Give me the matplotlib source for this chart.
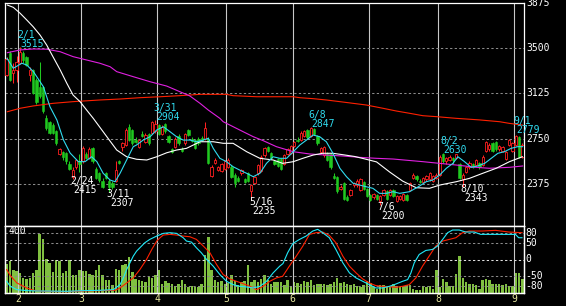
import numpy as np
import matplotlib
matplotlib.use("Agg")
import matplotlib.pyplot as plt
import matplotlib.transforms as mtransforms

# ---- daily candles, 157 sessions: late Jan .. early Sep ----
opens = [3280, 3460, 3295, 3320, 3380, 3460, 3430, 3280, 3320, 3240,
         3180, 3180, 2920, 2890, 2860, 2810, 2620, 2640, 2630, 2540,
         2430, 2515, 2560, 2560, 2620, 2590, 2670, 2495, 2460, 2400,
         2460, 2400, 2380, 2400, 2560, 2680, 2700, 2850, 2820, 2740,
         2680, 2790, 2720, 2790, 2795, 2810, 2860, 2790, 2870, 2770,
         2660, 2680, 2770, 2660, 2710, 2820, 2750, 2740, 2750, 2755,
         2750, 2750, 2440, 2550, 2490, 2480, 2500, 2515, 2515, 2450,
         2420, 2460, 2410, 2460, 2310, 2380, 2460, 2480, 2610, 2680,
         2630, 2560, 2580, 2580, 2540, 2620, 2630, 2690, 2740, 2740,
         2770, 2820, 2770, 2830, 2770, 2640, 2610, 2630, 2620, 2440,
         2430, 2330, 2380, 2260, 2280, 2360, 2360, 2320, 2390, 2330,
         2280, 2260, 2280, 2230, 2280, 2310, 2280, 2320, 2230, 2250,
         2240, 2280, 2320, 2420, 2440, 2400, 2390, 2410, 2410, 2400,
         2420, 2450, 2625, 2560, 2570, 2585, 2590, 2540, 2410, 2470,
         2510, 2535, 2530, 2545, 2530, 2650, 2660, 2710, 2720, 2660,
         2650, 2580, 2700, 2650, 2700, 2760, 2600]
highs = [3430, 3475, 3380, 3440, 3515, 3480, 3440, 3345, 3330, 3250,
         3390, 3190, 2950, 2900, 2880, 2820, 2670, 2650, 2640, 2560,
         2510, 2580, 2620, 2690, 2640, 2680, 2680, 2510, 2475, 2420,
         2470, 2410, 2400, 2560, 2570, 2720, 2840, 2870, 2830, 2760,
         2750, 2810, 2800, 2800, 2900, 2904, 2870, 2860, 2880, 2780,
         2670, 2760, 2790, 2680, 2800, 2830, 2760, 2750, 2760, 2770,
         2890, 2760, 2530, 2590, 2520, 2550, 2570, 2590, 2530, 2460,
         2440, 2500, 2420, 2470, 2370, 2440, 2540, 2610, 2680, 2690,
         2640, 2570, 2590, 2590, 2620, 2670, 2700, 2730, 2760, 2810,
         2820, 2830, 2847, 2840, 2780, 2680, 2690, 2640, 2630, 2460,
         2440, 2360, 2390, 2280, 2330, 2390, 2410, 2420, 2400, 2340,
         2290, 2300, 2290, 2280, 2330, 2320, 2330, 2330, 2280, 2280,
         2300, 2290, 2390, 2460, 2450, 2410, 2430, 2450, 2470, 2450,
         2460, 2610, 2630, 2600, 2610, 2600, 2625, 2550, 2460, 2520,
         2560, 2545, 2580, 2555, 2610, 2730, 2710, 2720, 2730, 2700,
         2690, 2650, 2750, 2720, 2779, 2770, 2710]
lows = [3270, 3225, 3215, 3220, 3370, 3380, 3350, 3230, 3120, 3040,
        3090, 2960, 2820, 2790, 2790, 2700, 2610, 2570, 2540, 2490,
        2415, 2500, 2470, 2550, 2580, 2580, 2550, 2410, 2390, 2340,
        2410, 2307, 2330, 2390, 2540, 2650, 2690, 2730, 2700, 2710,
        2670, 2760, 2710, 2700, 2790, 2800, 2780, 2780, 2800, 2710,
        2630, 2670, 2700, 2640, 2700, 2770, 2720, 2660, 2700, 2730,
        2740, 2540, 2430, 2540, 2480, 2470, 2490, 2505, 2420, 2350,
        2390, 2450, 2380, 2390, 2235, 2370, 2450, 2470, 2600, 2640,
        2580, 2530, 2510, 2490, 2530, 2610, 2620, 2680, 2720, 2730,
        2760, 2750, 2760, 2780, 2700, 2630, 2600, 2560, 2500, 2410,
        2300, 2320, 2240, 2230, 2270, 2350, 2350, 2310, 2320, 2260,
        2230, 2250, 2240, 2200, 2270, 2240, 2270, 2260, 2220, 2240,
        2230, 2230, 2310, 2410, 2400, 2380, 2380, 2400, 2400, 2390,
        2410, 2440, 2550, 2540, 2560, 2540, 2580, 2410, 2343, 2460,
        2500, 2505, 2520, 2500, 2520, 2640, 2650, 2640, 2650, 2650,
        2640, 2570, 2690, 2640, 2690, 2590, 2590]
closes = [3410, 3240, 3320, 3390, 3470, 3400, 3365, 3320, 3130, 3050,
          3100, 2975, 2840, 2800, 2800, 2710, 2660, 2600, 2560, 2500,
          2490, 2570, 2540, 2670, 2590, 2660, 2560, 2420, 2405, 2350,
          2420, 2345, 2350, 2490, 2550, 2710, 2820, 2740, 2710, 2720,
          2740, 2770, 2780, 2710, 2890, 2870, 2790, 2850, 2810, 2720,
          2640, 2750, 2710, 2650, 2790, 2780, 2730, 2670, 2710, 2740,
          2840, 2550, 2510, 2570, 2510, 2540, 2560, 2570, 2430, 2380,
          2400, 2490, 2390, 2400, 2360, 2430, 2530, 2600, 2670, 2650,
          2590, 2540, 2520, 2500, 2610, 2660, 2690, 2720, 2730, 2800,
          2810, 2760, 2840, 2790, 2710, 2670, 2680, 2570, 2510, 2420,
          2310, 2350, 2250, 2240, 2320, 2380, 2400, 2410, 2330, 2270,
          2240, 2290, 2250, 2270, 2320, 2250, 2320, 2270, 2270, 2270,
          2290, 2240, 2380, 2450, 2410, 2390, 2420, 2440, 2460, 2440,
          2450, 2600, 2560, 2590, 2600, 2575, 2620, 2420, 2450, 2510,
          2550, 2515, 2570, 2510, 2600, 2720, 2700, 2650, 2660, 2690,
          2680, 2640, 2740, 2710, 2770, 2600, 2700]
volumes = [196, 214, 152, 148, 134, 103, 96, 103, 136, 152,
           396, 363, 230, 201, 141, 219, 212, 134, 145, 223,
           119, 119, 152, 148, 148, 130, 119, 156, 190, 123,
           90, 85, 52, 163, 152, 190, 196, 241, 141, 96,
           90, 81, 74, 108, 103, 119, 152, 63, 81, 68,
           63, 48, 63, 85, 57, 41, 45, 41, 37, 59,
           252, 378, 152, 90, 74, 81, 63, 68, 119, 79,
           52, 74, 79, 185, 74, 90, 74, 96, 119, 85,
           63, 74, 74, 74, 52, 90, 45, 74, 68, 63,
           79, 74, 90, 52, 63, 63, 59, 52, 59, 74,
           101, 68, 74, 63, 52, 59, 45, 41, 52, 79,
           68, 41, 30, 52, 52, 48, 41, 63, 45, 41,
           45, 52, 52, 30, 23, 23, 45, 41, 45, 30,
           152, 41, 96, 74, 45, 45, 130, 245, 103, 74,
           63, 57, 52, 30, 90, 96, 85, 63, 63, 59,
           52, 63, 45, 45, 134, 134, 96]

month_labels = ["2", "3", "4", "5", "6", "7", "8", "9"]
month_starts = [4, 23, 46, 67, 87, 110, 131, 154]

# moving averages, sampled off the chart as (session, price)
ma5_day = [0.1, 2, 4.6, 6.1, 8.1, 11.1, 13.1, 15.2, 17.2, 19.2, 21.7, 23.7, 25.7,
           27.3, 29.2, 31.3, 32.8, 34.3, 36.3, 38.3, 39.3, 41.3, 43.4, 45.4,
           47.4, 49.4, 51.4, 53.4, 55.4, 57.5, 59.5, 61, 62.5, 64.5, 66.5,
           68.5, 70.5, 72.6, 74.6, 76.6, 78.6, 80.6, 82.6, 84.7, 86.7, 88.7,
           90.7, 92.7, 94.7, 96.7, 98.7, 100.8, 102.8, 104.8, 106.8, 108.8,
           110.8, 112.8, 114.9, 116.9, 118.9, 121.9, 124.9, 126.9, 128.9, 131,
           133, 135, 136.5, 138.5, 140.5, 142.5, 144.6, 146.6, 148.6, 150.6,
           152.6, 154.6, 156.1]
ma5_val = [3418, 3335, 3377, 3362, 3307, 3182, 3015, 2904, 2737, 2629, 2557, 2557,
           2598, 2557, 2460, 2404, 2390, 2460, 2571, 2682, 2696, 2737, 2765, 2821,
           2848, 2807, 2765, 2737, 2737, 2723, 2737, 2752, 2668, 2585, 2557,
           2515, 2487, 2460, 2432, 2460, 2543, 2598, 2585, 2585, 2640, 2696,
           2737, 2779, 2765, 2723, 2627, 2502, 2432, 2377, 2362, 2348,
           2335, 2293, 2293, 2307, 2293, 2307, 2354, 2390, 2404, 2446,
           2502, 2543, 2598, 2557, 2510, 2521, 2543, 2585, 2627, 2640,
           2668, 2682, 2682]

ma25_day = [0.2, 2, 4.1, 6.1, 8, 10.1, 12.1, 14, 16.2, 18.2, 20.1, 22.2, 24.2, 26.2,
            27.3, 30.3, 33.3, 36.3, 39.3, 42.4, 45.4, 48.4, 51.4, 54.4, 58.5,
            62.5, 65.5, 68.5, 72.6, 76.6, 80.6, 83.5, 86.7, 89.6, 92.7, 95.6,
            98.6, 101.7, 105.3, 108.3, 111.9, 115.9, 119.8, 123.9, 127.9, 131,
            136, 140, 144, 148.1, 152.1, 156]
ma25_val = [3862, 3843, 3793, 3737, 3682, 3612, 3529, 3432, 3321, 3210, 3112, 3057,
            2987, 2918, 2877, 2765, 2654, 2598, 2577, 2571, 2598, 2631, 2654, 2668,
            2723, 2723, 2710, 2710, 2640, 2585, 2571, 2543, 2557, 2585, 2612, 2627,
            2627, 2615, 2600, 2580, 2555, 2470, 2395, 2340, 2335, 2362,
            2390, 2418, 2460, 2502, 2557, 2598]

ma75_day = [0.2, 4.1, 8, 12.1, 16.2, 20.1, 24.2, 28.2, 31.3, 33.3, 38.3, 43.4, 48.4,
            52.4, 55.4, 58.5, 61, 64.5, 65.5, 70.5, 74.6, 77.6, 81.6, 86.7, 91.7,
            96.7, 101.8, 106.8, 111.8, 116.9, 125.9, 136, 142, 146, 152.1, 156.1]
ma75_val = [3465, 3488, 3496, 3494, 3473, 3432, 3404, 3377, 3348, 3307, 3265, 3223,
            3187, 3140, 3105, 3043, 2987, 2918, 2890, 2821, 2765, 2732, 2682, 2640,
            2621, 2612, 2604, 2593, 2585, 2579, 2557, 2529, 2510, 2502, 2510, 2521]

ma200_day = [0.2, 4.1, 8, 14, 20.1, 28.2, 34.3, 40.3, 46.4, 52.4, 58.5, 66.5, 68.5,
             75.6, 86.7, 88.7, 92.7, 96.7, 100.8, 104.8, 108.8, 113.8, 117.9,
             121.9, 125.9, 130, 136, 143, 149.1, 152.1, 156]
ma200_val = [2973, 3002, 3021, 3043, 3057, 3071, 3079, 3090, 3098, 3107, 3118, 3118,
             3107, 3098, 3098, 3090, 3082, 3071, 3057, 3043, 3029, 3002, 2979,
             2960, 2940, 2932, 2918, 2905, 2890, 2876, 2862]

# oscillators in the lower pane (-100..100)
osc_fast_day = [0, 1.1, 3.1, 6.1, 10.1, 18.2, 23.2, 28.2, 32.3, 34.3, 35.3, 36.3,
                37.3, 38.3, 39.3, 40.3, 41.8, 43.3, 45.4, 47.4, 49.4, 51.4, 53.4,
                54.4, 55.9, 57.4, 58.9, 60.5, 62.5, 64.5, 66.5, 68.5, 70.5, 72.6,
                74.6, 76.6, 78.6, 80.6, 82.6, 83.6, 85, 86.6, 88.6, 90.6, 92.6,
                94.1, 95.6, 97.6, 99.6, 101.7, 103.7, 105.7, 107.7, 109.7, 111.7,
                113.7, 115.8, 117.8, 119.8, 121.3, 122.3, 123.3, 124.8, 126.8,
                128.8, 130.3, 131.9, 133.4, 134.9, 136.9, 138.9, 141.4, 143.4,
                145.9, 149.9, 153.9, 154.9, 155.9]
osc_fast_val = [-65, -80, -90, -93, -94, -95, -93, -92, -90, -75, -55, -30,
                -10, 10, 25, 35, 50, 60, 70, 78, 80, 78, 65,
                55, 52, 35, 20, 0, -20, -45, -65, -75, -80, -82,
                -85, -80, -65, -40, -20, -12, 20, 48, 60, 70, 85,
                90, 80, 65, 30, -10, -40, -55, -65, -75, -85,
                -85, -80, -73, -65, -60, -40, -10, 15, 27,
                30, 40, 60, 80, 88, 88, 82, 82, 75,
                75, 75, 75, 65, 65]
osc_slow_day = [0, 1.1, 3.1, 6.1, 8.1, 11.1, 18.2, 23.2, 28.2, 32.8, 34.3, 36.3,
                38.3, 40.3, 42.3, 43.9, 45.4, 46.4, 47.4, 49.4, 51.4, 53.4, 55.4,
                57.4, 59.5, 61.5, 63.5, 65.5, 67.5, 69.5, 71.5, 73.6, 75.6, 77.6,
                79.6, 81.6, 83.5, 85.5, 87.6, 89.6, 91.6, 93.6, 95.6, 97.6, 99.6,
                101.7, 103.7, 105.7, 107.7, 109.7, 111.7, 113.7, 117.8, 119.8,
                121.8, 123.8, 125.8, 127.8, 129.8, 131.9, 133.9, 135.9, 137.9,
                139.9, 143.9, 147.9, 151.9, 155.9]
osc_slow_val = [-30, -48, -70, -85, -92, -95, -96, -94, -93, -92, -85, -70,
                -55, -30, 0, 30, 55, 65, 73, 75, 73, 70, 68,
                60, 40, 20, -15, -45, -58, -65, -72, -80, -90, -80,
                -65, -55, -50, -20, 10, 40, 75, 80, 82, 72, 50,
                10, -20, -40, -58, -70, -78, -80, -83, -80,
                -75, -55, -20, 10, 40, 55, 60, 65, 80,
                85, 85, 87, 82, 80]

price_levels = [3875, 3500, 3125, 2750, 2375]
osc_levels = [80, 50, 0, -50, -80]

peak_days = [4, 45, 92, 132, 154]
peak_dates = ["2/1", "3/31", "6/8", "8/2", "9/1"]
peak_lift = [0, 0, 0, 0, 1.6]          # points, keeps 9/1 clear of the 2750 scale label
trough_days = [20, 31, 74, 113, 138]
trough_dates = ["2/24", "3/11", "5/16", "7/6", "8/10"]

# ---- colours ----
UP = "#ff2020"
DOWN = "#20c820"
CYAN = "#30dcf0"
MONO = "DejaVu Sans Mono"

opens = np.array(opens)
highs = np.array(highs)
lows = np.array(lows)
closes = np.array(closes)
days = np.arange(len(closes))

fig = plt.figure(figsize=(5.66, 3.06), dpi=100, facecolor="black")
ax = fig.add_axes([5 / 566, 80 / 306, 519 / 566, 223 / 306], facecolor="black")
ax2 = fig.add_axes([5 / 566, 13 / 306, 519 / 566, 67 / 306], facecolor="black")
ax3 = ax2.twinx()

for a in (ax, ax2, ax3):
    a.set_xlim(-0.5, len(closes) - 0.5)
    a.set_xticks([])
    a.set_yticks([])
    for s in a.spines.values():
        s.set_color("white")
        s.set_linewidth(0.9)

ax.set_ylim(2021, 3879)
ax2.set_ylim(0, 449)
ax3.set_ylim(-100, 100)

# grid
for m in month_starts:
    ax.axvline(m - 0.5, color="#c8c8c8", lw=0.8, zorder=1)
    ax2.axvline(m - 0.5, color="#c8c8c8", lw=0.8, zorder=3)
for lv in price_levels[1:]:
    ax.axhline(lv, color="#8a8a8a", lw=0.75, dashes=(2.2, 2.2), zorder=1)

# candles
up = closes >= opens
dn = ~up
ax.vlines(days[up], lows[up], highs[up], color=UP, lw=0.75, zorder=3)
ax.vlines(days[dn], lows[dn], highs[dn], color=DOWN, lw=0.75, zorder=3)
body = np.maximum(np.abs(closes - opens), 5)
bottom = np.minimum(opens, closes)
ax.bar(days[up], body[up], bottom=bottom[up], width=0.7, facecolor="black",
       edgecolor=UP, linewidth=0.6, zorder=4)
ax.bar(days[dn], body[dn], bottom=bottom[dn], width=0.7, facecolor=DOWN,
       edgecolor=DOWN, linewidth=0.4, zorder=4)

# moving averages
ax.plot(ma200_day, ma200_val, color="#ff2000", lw=0.8, zorder=5)
ax.plot(ma75_day, ma75_val, color="#e020e0", lw=0.8, zorder=5)
ax.plot(ma25_day, ma25_val, color="white", lw=0.8, zorder=5)
ax.plot(ma5_day, ma5_val, color=CYAN, lw=0.8, zorder=6)

# peak / trough labels
for d, t, lift in zip(peak_days, peak_dates, peak_lift):
    ax.annotate(str(highs[d]), (d, highs[d]), xytext=(0.4, lift), textcoords="offset points",
                color=CYAN, fontsize=7, family=MONO, ha="left", va="baseline",
                annotation_clip=False, zorder=7)
    ax.annotate(t, (d, highs[d]), xytext=(-1.8, 6.5 + lift), textcoords="offset points",
                color=CYAN, fontsize=7, family=MONO, ha="left", va="baseline",
                annotation_clip=False, zorder=7)
for d, t in zip(trough_days, trough_dates):
    ax.annotate(t, (d, lows[d]), xytext=(-1.7, -3.6), textcoords="offset points",
                color="white", fontsize=7, family=MONO, ha="left", va="baseline",
                annotation_clip=False, zorder=7)
    ax.annotate(str(lows[d]), (d, lows[d]), xytext=(0.7, -10.1), textcoords="offset points",
                color="white", fontsize=7, family=MONO, ha="left", va="baseline",
                annotation_clip=False, zorder=7)

# right-hand scales
tr = mtransforms.blended_transform_factory(ax.transAxes, ax.transData)
for lv in price_levels:
    ax.text(1.0048, lv, str(lv), transform=tr, color="white", fontsize=7,
            family=MONO, ha="left", va="center", clip_on=False)

# lower pane: volume + oscillators
ax2.bar(days, volumes, width=0.75, color="#80c040", zorder=2)
for lv in osc_levels:
    c = "#e0e0e0" if lv == 0 else "#8a8a8a"
    ax3.axhline(lv, color=c, lw=0.75, dashes=(2.2, 2.2), zorder=1)
ax3.plot(osc_slow_day, osc_slow_val, color="#ff2000", lw=0.8, zorder=3)
ax3.plot(osc_fast_day, osc_fast_val, color="#20e8f8", lw=0.8, zorder=4)

tr3 = mtransforms.blended_transform_factory(ax3.transAxes, ax3.transData)
for lv in osc_levels:
    ax3.text(1.003, lv, str(lv), transform=tr3, color="white", fontsize=7,
             family=MONO, ha="left", va="center", clip_on=False)
ax3.text(0.0077, 0.918, "400", transform=ax3.transAxes, color="white",
         fontsize=7, family=MONO, ha="left", va="center")

trm = mtransforms.blended_transform_factory(ax2.transData, ax2.transAxes)
for m, lab in zip(month_starts, month_labels):
    ax2.text(m - 0.5, -0.09, lab, transform=trm, color="#e8e8a0", fontsize=7,
             family=MONO, ha="center", va="center", clip_on=False)

fig.savefig("out.png", dpi=100, facecolor="black")
